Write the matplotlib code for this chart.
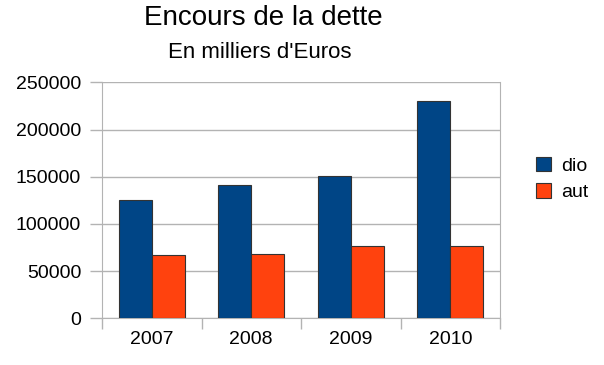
import matplotlib
matplotlib.use("Agg")
import matplotlib.pyplot as plt
import numpy as np

# data
years = ['2007', '2008', '2009', '2010']
dio = [125500, 141500, 151000, 229800]
aut = [67000, 68500, 76200, 77000]
yticks = [0, 50000, 100000, 150000, 200000, 250000]

plt.rcParams['font.family'] = ['Liberation Sans', 'DejaVu Sans']

fig = plt.figure(figsize=(6.04, 3.65), dpi=100)
ax = fig.add_axes([102/604, 1 - 318.3/365, (500 - 102)/604, (318.3 - 82.3)/365])

x = np.arange(len(years))
w = 0.33
ax.bar(x - w/2, dio, w, color='#004586', edgecolor='#333333', linewidth=0.8, label='dio', zorder=3)
ax.bar(x + w/2, aut, w, color='#ff420e', edgecolor='#333333', linewidth=0.8, label='aut', zorder=3)

ax.set_xlim(-0.5, len(years) - 0.5)
ax.set_ylim(0, 250000)
ax.set_yticks(yticks)
ax.set_yticklabels([str(v) for v in yticks], fontsize=14)
ax.set_xticks(x)
ax.set_xticklabels(years, fontsize=14)
ax.set_xticks(np.arange(-0.5, len(years), 1), minor=True)
ax.tick_params(axis='x', which='major', length=0, pad=9)
ax.tick_params(axis='x', which='minor', length=8, color='#b3b3b3', width=1)
ax.tick_params(axis='y', length=9, color='#b3b3b3', width=1, pad=6)
ax.yaxis.grid(True, color='#b3b3b3', linewidth=1, zorder=0)
for s in ['left', 'right', 'bottom']:
    ax.spines[s].set_color('#b3b3b3')
ax.spines['top'].set_visible(False)

fig.text(263/604, 1 - 18/365, 'Encours de la dette', fontsize=20, ha='center', va='center')
fig.text(260/604, 1 - 52/365, "En milliers d'Euros", fontsize=16, ha='center', va='center')

fig.legend(loc='center left', bbox_to_anchor=(526/604, 1 - 179/365), frameon=False, borderpad=0,
           fontsize=14, handlelength=0.8, handleheight=0.75, handletextpad=0.5, labelspacing=0.45)

fig.savefig('out.png', dpi=100)
